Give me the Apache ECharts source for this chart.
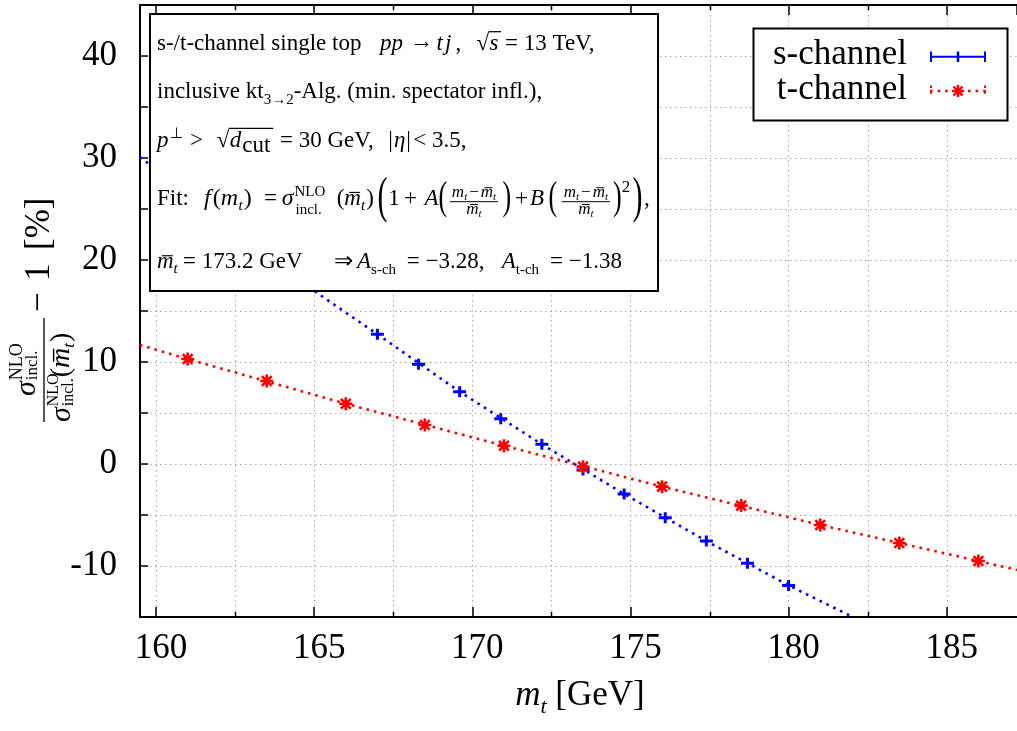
<!DOCTYPE html>
<html><head><meta charset="utf-8">
<script src="https://cdn.jsdelivr.net/npm/echarts@6/dist/echarts.min.js"></script>
<style>html,body{margin:0;padding:0;background:#fff}#c{width:1017px;height:731px}</style>
</head><body><div id="c"></div>
<script>
// ---------------- data ----------------
const sChannelMass = [167.0, 168.3, 169.6, 170.9, 172.2, 173.5, 174.8, 176.1, 177.4, 178.7, 180.0];
const sChannelDev  = [12.72, 9.77, 7.09, 4.44, 1.93, -0.59, -2.94, -5.26, -7.55, -9.74, -11.9];
const tChannelMass = [161.0, 163.5, 166.0, 168.5, 171.0, 173.5, 176.0, 178.5, 181.0, 183.5, 186.0];
const tChannelDev  = [10.29, 8.14, 5.91, 3.82, 1.79, -0.26, -2.22, -4.08, -5.98, -7.75, -9.51];
// fitted curves (dotted)
const sFitMass = [159.49, 165.08, 167.0, 169.6, 172.2, 174.8, 177.4, 180.0, 182.03];
const sFitDev  = [30.1, 16.8, 12.72, 7.09, 1.93, -2.94, -7.55, -11.9, -15.0];
const tFitMass = [159.49, 161.0, 166.0, 171.0, 176.0, 181.0, 186.0, 187.22];
const tFitDev  = [11.67, 10.29, 5.91, 1.79, -2.22, -5.98, -9.51, -10.39];
// axis ticks
const xTickLabels = [160, 165, 170, 175, 180, 185];
const xMinorTicks = [162.5, 167.5, 172.5, 177.5, 182.5];
const yTickLabels = [-10, 0, 10, 20, 30, 40];

const X_MIN = 159.494, X_MAX = 187.221, Y_MIN = -15, Y_MAX = 45;
const BLUE = '#0000ff', RED = '#ff0000', GRID = '#a8a8a8';
const FF = '"Liberation Serif","Times New Roman",serif';

// ---------------- text helpers ----------------
const mc = document.createElement('canvas').getContext('2d');
function fnt(s, it) { return (it ? 'italic ' : '') + s + 'px ' + FF; }
function tw(t, s, it) { mc.font = fnt(s, it); return mc.measureText(t).width; }
function T(out, x, base, t, s, it, o) {
  o = o || {};
  const al = o.align || 'left';
  out.push({ type: 'text', x: x, y: base - 0.34 * s, z: 101, silent: true,
    style: { text: t, font: fnt(s, it), fill: o.color || '#000',
      align: al, textAlign: al, verticalAlign: 'middle', textVerticalAlign: 'middle' } });
  const w = tw(t, s, it);
  if (o.bar) {
    const yb = base - o.bar[2] * s;
    out.push({ type: 'line', z: 101, silent: true,
      shape: { x1: x + w * o.bar[0], y1: yb, x2: x + w * o.bar[1], y2: yb },
      style: { stroke: '#000', lineWidth: Math.max(1, s / 20) } });
  }
  return x + w;
}
// tall, thin bracket: glyph stretched vertically around its centre cy
function P(out, x, cy, ch, s, sy) {
  out.push({ type: 'text', x: x, y: cy, scaleY: sy, z: 101, silent: true,
    style: { text: ch, font: fnt(s, false), fill: '#000',
      align: 'left', textAlign: 'left', verticalAlign: 'middle', textVerticalAlign: 'middle' } });
  return x + tw(ch, s, false);
}
function L(out, x1, y1, x2, y2, lw, color, dash) {
  out.push({ type: 'line', z: 101, silent: true, shape: { x1, y1, x2, y2 },
    style: { stroke: color || '#000', lineWidth: lw || 1.2, lineDash: dash || null } });
}
function seq(out, x, base, parts) {
  for (const p of parts) { x = T(out, x + (p[5] || 0), base + (p[3] || 0), p[0], p[1], p[2], p[4]); }
  return x;
}
function seqW(parts) { return parts.reduce((a, p) => a + tw(p[0], p[1], p[2]) + (p[5] || 0), 0); }
const MBAR = { bar: [0.3, 0.95, 0.62] };

// ---------------- symbols ----------------
const STAR_POLYS = [
  [[-6, -1.2], [6, -1.2], [6, 1.2], [-6, 1.2]],
  [[-1.2, -6], [1.2, -6], [1.2, 6], [-1.2, 6]],
  [[-3.65, -5.35], [5.35, 3.65], [3.65, 5.35], [-5.35, -3.65]],
  [[3.65, -5.35], [5.35, -3.65], [-3.65, 5.35], [-5.35, 3.65]]
];
const polyPath = polys => polys.map(p => 'M' + p.map(q => q[0] + ',' + q[1]).join('L') + 'Z').join('');
const PLUS = 'path://M-6.5,-1.5L6.5,-1.5L6.5,1.5L-6.5,1.5ZM-1.5,-5.5L1.5,-5.5L1.5,5.5L-1.5,5.5Z';
const STAR = 'path://' + polyPath(STAR_POLYS);

const G = [];
// ---------------- annotation box ----------------
G.push({ type: 'rect', z: 100, silent: true, shape: { x: 150, y: 14, width: 508, height: 277 },
  style: { fill: '#fff', stroke: '#000', lineWidth: 2 } });
let x;
// line 1
const B1 = 51.7;
T(G, 157, B1, 's-/t-channel single top', 23);
T(G, 380, B1, 'pp', 23, true);
T(G, 410, B1 - 2, '\u2192', 23);
x = T(G, 436.5, B1, 't', 23, true);
T(G, x + 2, B1, 'j', 23, true);
T(G, 455.5, B1, ',', 23);
x = T(G, 476.5, B1, '\u221A', 23);
L(G, x - 0.5, 31.7, x + 12, 31.7, 1.2);
T(G, x + 0.5, B1, 's', 23, true);
T(G, 505, B1, '= 13 TeV,', 23);
// line 2
const B2 = 100;
x = T(G, 157, B2, 'inclusive kt', 23);
x = T(G, x, B2 + 5, '3\u21922', 15);
T(G, x, B2, '-Alg. (min. spectator infl.),', 23);
// line 3
const B3 = 148.3;
x = T(G, 157, B3, 'p', 23, true);
T(G, x + 1.5, B3 - 9, '\u22A5', 15);
T(G, 190, B3, '>', 23);
x = T(G, 216.7, B3, '\u221A', 23);
L(G, x - 0.5, 128.3, 273.3, 128.3, 1.2);
x = T(G, x + 0.5, B3, 'd', 23, true);
T(G, x + 1, B3 + 5, 'cut', 23);
T(G, 280, B3, '= 30 GeV,', 23);
x = T(G, 388.3, B3, '|', 23);
x = T(G, x + 1, B3, '\u03B7', 23, true);
T(G, x + 1, B3, '|', 23);
T(G, 413.3, B3, '< 3.5,', 23);
// line 4
const B4 = 206.7;
T(G, 157, B4, 'Fit:', 23);
seq(G, 204, B4, [['f', 24, true], ['(', 24, false, 0, null, 2], ['m', 24, true], ['t', 15, true, 4, null, 0.5], [')', 24, false, 0, null, 1]]);
T(G, 264, B4, '=', 23);
x = T(G, 281.7, B4, '\u03C3', 24, true);
T(G, x + 1, B4 - 10, 'NLO', 15);
T(G, x + 2, B4 + 8, 'incl.', 15);
seq(G, 336.7, B4, [['(', 23], ['m', 23, true, 0, MBAR], ['t', 15, true, 4], [')', 23, false, 0, null, 1]]);
function fracMt(xl, xr) {
  const num = [['m', 17, true], ['t', 11, true, 3], ['\u2212', 17, false, 0, null, 2], ['m', 17, true, 0, MBAR, 2], ['t', 11, true, 3]];
  const den = [['m', 17, true, 0, MBAR], ['t', 11, true, 3]];
  const c = (xl + xr) / 2;
  seq(G, c - seqW(num) / 2, 198.3, num);
  L(G, xl, 201.7, xr, 201.7, 1);
  seq(G, c - seqW(den) / 2, 215, den);
}
P(G, 377.5, 199, '(', 30, 1.7);
T(G, 388.3, B4, '1', 23);
T(G, 404, B4, '+', 23);
T(G, 424.5, B4, 'A', 23, true);
P(G, 438.5, 198.5, '(', 26, 1.55);
fracMt(450, 498);
P(G, 502.5, 198.5, ')', 26, 1.55);
T(G, 515, B4, '+', 23);
T(G, 530, B4, 'B', 23, true);
P(G, 548.5, 198.5, '(', 26, 1.55);
fracMt(561.7, 610);
P(G, 613, 198.5, ')', 26, 1.55);
T(G, 621.7, 193, '2', 17);
P(G, 632.5, 199, ')', 30, 1.7);
T(G, 644, B4, ',', 23);
// line 5
const B5 = 270;
x = T(G, 157, B5, 'm', 23, true, MBAR);
T(G, x, B5 + 4, 't', 15, true);
T(G, 183, B5, '= 173.2 GeV', 23);
T(G, 334, B5, '\u21D2', 23);
x = T(G, 357, B5, 'A', 23, true);
T(G, x, B5 + 5, 's-ch', 15);
T(G, 406.7, B5, '= \u22123.28,', 23);
x = T(G, 501.7, B5, 'A', 23, true);
T(G, x, B5 + 5, 't-ch', 15);
T(G, 550, B5, '= \u22121.38', 23);

// ---------------- legend ----------------
G.push({ type: 'rect', z: 100, silent: true, shape: { x: 753.5, y: 28.5, width: 254, height: 92 },
  style: { fill: '#fff', stroke: '#000', lineWidth: 2 } });
T(G, 907, 66.7, 's-channel', 35, false, { align: 'right' });
T(G, 907, 101.7, 't-channel', 35, false, { align: 'right' });
L(G, 930, 56.7, 986, 56.7, 2, BLUE);
L(G, 931, 51.5, 931, 62, 2, BLUE);
L(G, 958, 51.5, 958, 62, 2.5, BLUE);
L(G, 985, 51.5, 985, 62, 2, BLUE);
L(G, 930, 91, 986, 91, 2.6, RED, [2.6, 5]);
L(G, 931, 85.5, 931, 96.5, 2, RED, [2.6, 3]);
L(G, 985, 85.5, 985, 96.5, 2, RED, [2.6, 3]);
for (const poly of STAR_POLYS) {
  G.push({ type: 'polygon', z: 102, silent: true,
    shape: { points: poly.map(q => [958 + q[0], 91 + q[1]]) }, style: { fill: RED } });
}

// ---------------- y axis title (rotated) ----------------
const YL = [];
(function () {
  L(YL, -52, 0, 52, 0, 1.3);
  let xx = T(YL, -26, -7, '\u03C3', 30, true);
  T(YL, xx + 1, -21, 'NLO', 18);
  T(YL, xx + 1, -6, 'incl.', 17);
  xx = T(YL, -52, 28, '\u03C3', 30, true);
  T(YL, xx + 1, 15, 'NLO', 16);
  const e = T(YL, xx + 1, 30, 'incl.', 16);
  xx = T(YL, e + 1, 27, '(', 28);
  xx = T(YL, xx, 27, 'm', 28, true, MBAR);
  xx = T(YL, xx, 31, 't', 17, true);
  T(YL, xx + 1, 27, ')', 28);
  T(YL, 58, 8, '\u2212', 35);
  T(YL, 89, 8, '1', 35);
  T(YL, 120, 8, '[%]', 35);
})();
G.push({ type: 'group', x: 44, y: 370, rotation: Math.PI / 2, children: YL });

// ---------------- x axis title ----------------
(function () {
  const parts = [['m', 35, true], ['t', 22, true, 7], [' [GeV]', 35]];
  seq(G, 580 - seqW(parts) / 2, 708, parts);
})();

const zip = (a, b) => a.map((v, i) => [v, b[i]]);

const axisLineStyle = { color: '#000', width: 2 };
const chart = echarts.init(document.getElementById('c'), null, { renderer: 'canvas' });
chart.setOption({
  animation: false,
  backgroundColor: '#fff',
  grid: { left: 140, top: 5, right: 0, bottom: 114, containLabel: false },
  xAxis: [{
    type: 'value', position: 'bottom', min: X_MIN, max: X_MAX, splitNumber: 5,
    axisLine: { show: true, onZero: false, lineStyle: axisLineStyle },
    axisTick: { show: true, inside: true, length: 10, lineStyle: { color: '#000', width: 1.5 } },
    axisLabel: { fontSize: 35, fontFamily: FF, color: '#000', margin: 14, padding: [0, 0, 0, 10],
      showMinLabel: false, showMaxLabel: false,
      formatter: v => (xTickLabels.indexOf(v) >= 0 ? String(v) : '') },
    splitLine: { show: true, lineStyle: { color: GRID, width: 1, type: [1.5, 3.5] } }
  }, {
    type: 'value', position: 'top', min: X_MIN, max: X_MAX, splitNumber: 5,
    axisLine: { show: true, onZero: false, lineStyle: axisLineStyle },
    axisTick: { show: true, inside: true, length: 10, lineStyle: { color: '#000', width: 1.5 } },
    axisLabel: { show: false }, splitLine: { show: false }
  }],
  yAxis: [{
    type: 'value', min: Y_MIN, max: Y_MAX, interval: 5,
    axisLine: { show: true, onZero: false, lineStyle: axisLineStyle },
    axisTick: { show: true, inside: true, length: 8, lineStyle: { color: '#000', width: 1.5 } },
    axisLabel: { fontSize: 35, fontFamily: FF, color: '#000', margin: 23,
      formatter: v => (yTickLabels.indexOf(v) >= 0 ? String(v) : '') },
    splitLine: { show: true, lineStyle: { color: GRID, width: 1, type: [1.5, 3.5] } }
  }],
  series: [
    { type: 'custom', name: 'minor', silent: true, z: 1, clip: false,
      data: xMinorTicks.map(v => [v, 0]), encode: { x: 0, y: 1 },
      renderItem: (params, api) => {
        const xv = api.value(0);
        const top = api.coord([xv, Y_MAX]), bot = api.coord([xv, Y_MIN]);
        const px = Math.round(top[0]) + 0.5;
        return { type: 'group', children: [
          { type: 'line', shape: { x1: px, y1: top[1], x2: px, y2: bot[1] }, style: { stroke: GRID, lineWidth: 1, lineDash: [1.5, 3.5] } },
          { type: 'line', shape: { x1: px, y1: bot[1], x2: px, y2: bot[1] - 5 }, style: { stroke: '#000', lineWidth: 1.5 } },
          { type: 'line', shape: { x1: px, y1: top[1], x2: px, y2: top[1] + 5 }, style: { stroke: '#000', lineWidth: 1.5 } }
        ] };
      } },
    { type: 'line', name: 's-channel fit', data: zip(sFitMass, sFitDev), symbol: 'none', z: 3,
      lineStyle: { color: BLUE, width: 2.6, type: [2.6, 5] }, silent: true },
    { type: 'line', name: 't-channel fit', data: zip(tFitMass, tFitDev), symbol: 'none', z: 3,
      lineStyle: { color: RED, width: 2.6, type: [2.6, 5] }, silent: true },
    { type: 'scatter', name: 's-channel', data: zip(sChannelMass, sChannelDev), symbol: PLUS,
      symbolSize: [13, 11], itemStyle: { color: BLUE, opacity: 1 }, z: 4 },
    { type: 'scatter', name: 't-channel', data: zip(tChannelMass, tChannelDev), symbol: STAR,
      symbolSize: 13, itemStyle: { color: RED, opacity: 1 }, z: 4 }
  ],
  graphic: { elements: G }
});
</script></body></html>
